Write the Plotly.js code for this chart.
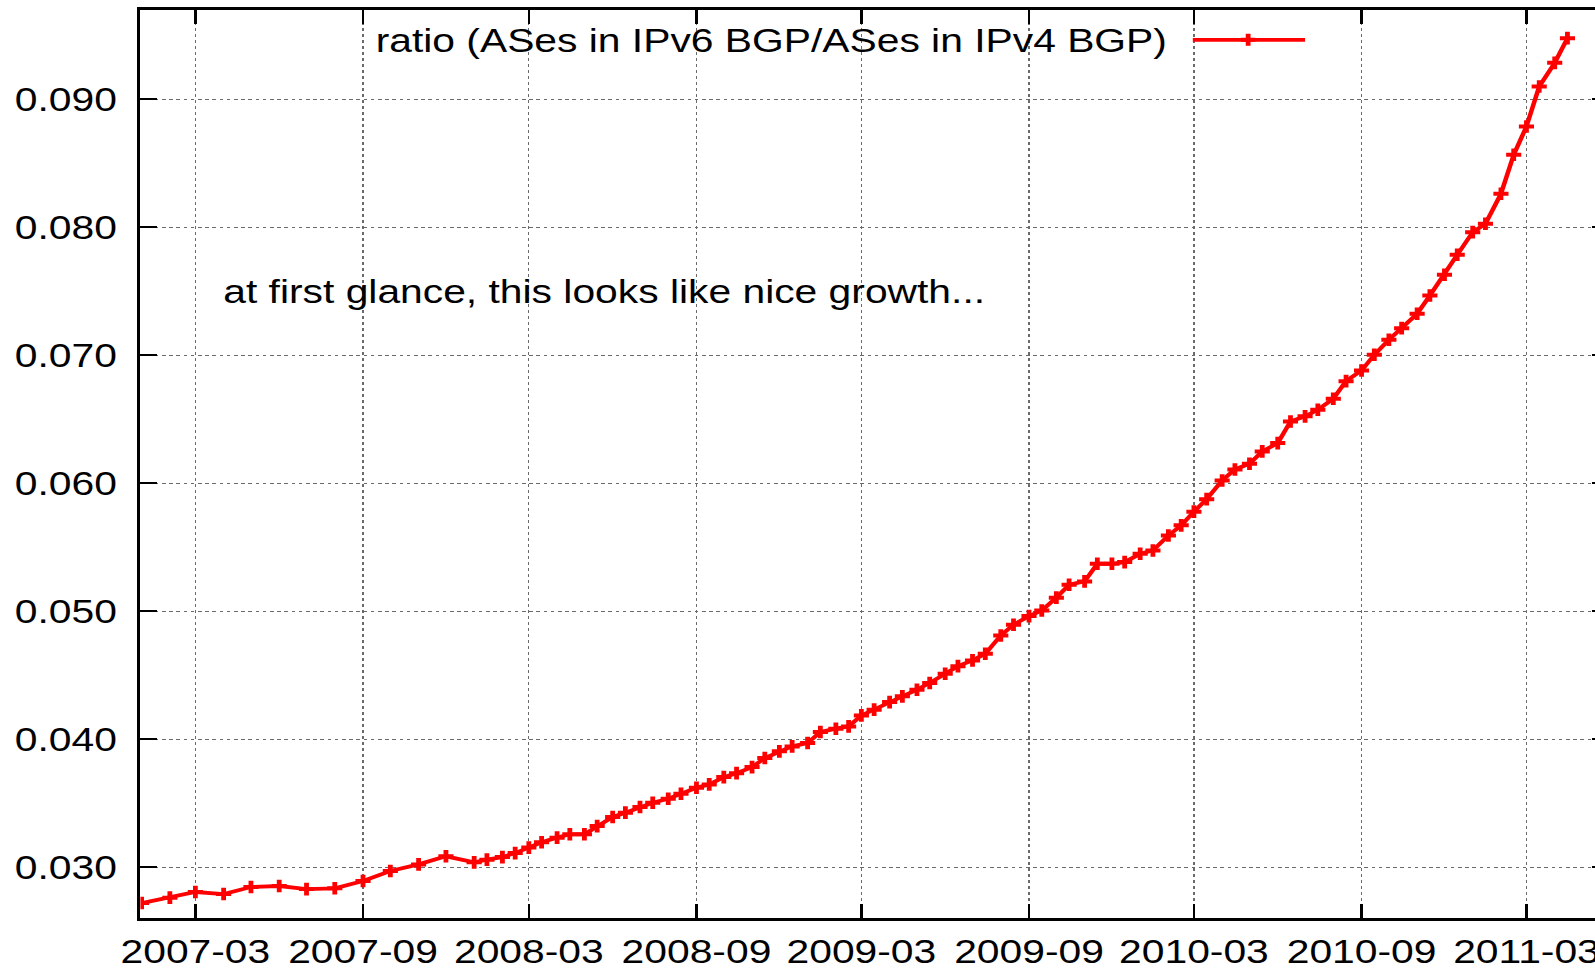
<!DOCTYPE html>
<html><head><meta charset="utf-8">
<script src="https://cdn.plot.ly/plotly-3.0.1.min.js"></script>
<style>
html,body{margin:0;padding:0;overflow:hidden;background:#fff;width:1595px;height:970px;}
#chart{width:1340px;height:970px;transform:scaleX(1.2);transform-origin:0 0;}
</style></head><body><div id="chart"></div>
<script>
const dates = [
'2007-01-01','2007-02-01','2007-03-01','2007-04-01','2007-05-01','2007-06-01',
'2007-07-01','2007-08-01','2007-09-01','2007-10-01','2007-11-01','2007-12-01',
'2008-01-01','2008-01-15','2008-02-01','2008-02-15','2008-03-01','2008-03-15',
'2008-04-01','2008-04-15','2008-05-01','2008-05-15','2008-06-01','2008-06-15',
'2008-07-01','2008-07-15','2008-08-01','2008-08-15','2008-09-01','2008-09-15',
'2008-10-01','2008-10-15','2008-11-01','2008-11-15','2008-12-01','2008-12-15',
'2009-01-01','2009-01-15','2009-02-01','2009-02-15','2009-03-01','2009-03-15',
'2009-04-01','2009-04-15','2009-05-01','2009-05-15','2009-06-01','2009-06-15',
'2009-07-01','2009-07-15','2009-08-01','2009-08-15','2009-09-01','2009-09-15',
'2009-10-01','2009-10-15','2009-11-01','2009-11-15','2009-12-01','2009-12-15',
'2010-01-01','2010-01-15','2010-02-01','2010-02-15','2010-03-01','2010-03-15',
'2010-04-01','2010-04-15','2010-05-01','2010-05-15','2010-06-01','2010-06-15',
'2010-07-01','2010-07-15','2010-08-01','2010-08-15','2010-09-01','2010-09-15',
'2010-10-01','2010-10-15','2010-11-01','2010-11-15','2010-12-01','2010-12-15',
'2011-01-01','2011-01-15','2011-02-01','2011-02-15','2011-03-01','2011-03-15',
'2011-04-01','2011-04-15'];
const ratio = [
0.02719,0.02761,0.02805,0.02789,0.02844,0.02852,
0.02828,0.02834,0.02891,0.02969,0.03021,0.03084,
0.03037,0.03058,0.03078,0.03109,0.03152,0.03194,
0.03230,0.03256,0.03256,0.03320,0.03391,0.03425,
0.03469,0.03503,0.03534,0.03573,0.03620,0.03646,
0.03703,0.03734,0.03781,0.03852,0.03904,0.03943,
0.03969,0.04055,0.04081,0.04099,0.04185,0.04230,
0.04289,0.04334,0.04386,0.04438,0.04511,0.04570,
0.04615,0.04667,0.04810,0.04894,0.04961,0.05005,
0.05105,0.05206,0.05232,0.05370,0.05370,0.05383,
0.05448,0.05474,0.05591,0.05670,0.05777,0.05875,
0.06021,0.06107,0.06152,0.06248,0.06313,0.06482,
0.06522,0.06573,0.06659,0.06797,0.06880,0.07003,
0.07120,0.07211,0.07323,0.07466,0.07628,0.07784,
0.07961,0.08027,0.08261,0.08566,0.08787,0.09099,
0.09284,0.09477];
const xTickVals = ['2007-03-01','2007-09-01','2008-03-01','2008-09-01','2009-03-01','2009-09-01','2010-03-01','2010-09-01','2011-03-01'];
const xTickText = ['2007-03','2007-09','2008-03','2008-09','2009-03','2009-09','2010-03','2010-09','2011-03'];
const yTickVals = [0.03,0.04,0.05,0.06,0.07,0.08,0.09];
const yTickText = ['0.030','0.040','0.050','0.060','0.070','0.080','0.090'];
const seriesName = 'ratio (ASes in IPv6 BGP/ASes in IPv4 BGP)';
const note = 'at first glance, this looks like nice growth...';

const FONT = 'Liberation Sans, Arial, Helvetica, sans-serif';
const RED = '#ff0000';

const axisCommon = {
  ticks: 'inside', ticklen: 14, tickwidth: 2, tickcolor: '#000',
  showline: true, linecolor: '#000', linewidth: 2.5, mirror: 'ticks',
  showgrid: true, gridcolor: '#6a6a6a', griddash: 'dot', gridwidth: 1,
  zeroline: false, tickfont: {family: FONT, size: 34, color: '#000'}
};

const trace = {
  x: dates, y: ratio, type: 'scatter', mode: 'lines+markers', name: seriesName,
  line: {color: RED, width: 3.8},
  marker: {symbol: 'cross-thin-open', size: 9, color: RED, line: {color: RED, width: 4}},
  showlegend: false
};

const layout = {
  width: 1340, height: 970,
  margin: {l: 116.67, r: 0, t: 9.5, b: 52.3, pad: 0},
  paper_bgcolor: '#fff', plot_bgcolor: '#fff',
  font: {family: FONT, size: 34, color: '#000'},
  xaxis: Object.assign({}, axisCommon, {
    type: 'date', range: ['2006-12-30 15:36', '2011-05-29 12:00'],
    tickmode: 'array', tickvals: xTickVals, ticktext: xTickText, ticklabelstandoff: 1
  }),
  yaxis: Object.assign({}, axisCommon, {
    range: [0.02602, 0.09697],
    tickmode: 'array', tickvals: yTickVals, ticktext: yTickText, ticklabelstandoff: 10
  }),
  shapes: [
    {type: 'rect', xref: 'paper', yref: 'paper', x0: 0.002, x1: 0.8004, y0: 0.9488, y1: 0.997,
     fillcolor: '#fff', line: {width: 0}, layer: 'between'},
    {type: 'line', xref: 'paper', yref: 'paper', x0: 0.7171, x1: 0.7936, y0: 0.96719, y1: 0.96719,
     line: {color: RED, width: 3.8}},
    {type: 'path', xref: 'paper', yref: 'paper',
     path: 'M 0.7499,0.96719 L 0.7597,0.96719 M 0.7548,0.9606 L 0.7548,0.9738',
     line: {color: RED, width: 4}}
  ],
  annotations: [
    {xref: 'paper', yref: 'paper', x: 0.7010, y: 0.9670, xanchor: 'right', yanchor: 'middle',
     text: seriesName, showarrow: false, font: {family: FONT, size: 34, color: '#000'}},
    {xref: 'paper', yref: 'paper', x: 0.0547, y: 0.690, xanchor: 'left', yanchor: 'middle',
     text: note, showarrow: false, font: {family: FONT, size: 34, color: '#000'}}
  ]
};

Plotly.newPlot('chart', [trace], layout, {displayModeBar: false, responsive: false});
</script></body></html>
